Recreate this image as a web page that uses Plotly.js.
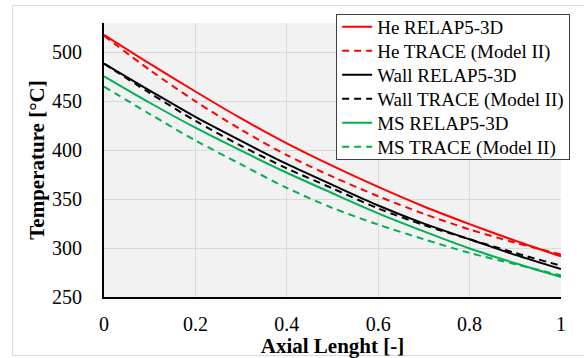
<!DOCTYPE html>
<html>
<head>
<meta charset="utf-8">
<script src="https://cdn.plot.ly/plotly-3.0.1.min.js"></script>
<style>
  html, body { margin: 0; padding: 0; background: #ffffff; }
  #wrap { position: relative; width: 584px; height: 358px; overflow: hidden; }
  #frame { position: absolute; left: 12px; top: 5px; width: 600px; height: 351px; border: 1px solid #d9d9d9; box-sizing: border-box; }
  #chart { position: absolute; left: 0; top: 0; width: 584px; height: 358px; }
</style>
</head>
<body>
<div id="wrap">
  <div id="frame"></div>
  <div id="chart"></div>
</div>
<script>
// Axial position [-]
const axialPos = [0, 0.1, 0.2, 0.3, 0.4, 0.5, 0.6, 0.7, 0.8, 0.9, 1.0];

// Temperatures [°C]
const heRelap  = [518, 488.5, 460, 432.5, 407, 384, 362.5, 342.5, 324.5, 307.5, 291.5];
const heTrace  = [517, 482, 450, 421, 395, 373, 353, 335, 319, 305.5, 293.5];
const wallRelap = [488.5, 461, 434, 409.5, 386, 364.5, 343.5, 325, 309, 293, 278.5];
const wallTrace = [488.5, 458.5, 430, 404.5, 381.5, 361, 340.5, 323.5, 309, 295, 282];
const msRelap  = [475.5, 448.5, 423, 399.5, 377, 356, 335.5, 317, 299.5, 284.5, 270.5];
const msTrace  = [465, 437, 410, 385.5, 361.5, 341, 324, 309, 295, 283.5, 272];

const seriesNames = [
  "He RELAP5-3D", "He TRACE (Model II)",
  "Wall RELAP5-3D", "Wall TRACE (Model II)",
  "MS RELAP5-3D", "MS TRACE (Model II)"
];
const seriesData = [heRelap, heTrace, wallRelap, wallTrace, msRelap, msTrace];
const seriesColors = ["#ff0000", "#ff0000", "#000000", "#000000", "#00b050", "#00b050"];
const seriesDash = ["solid", "7px,5px", "solid", "7px,5px", "solid", "7px,5px"];

const xTicks = [0, 0.2, 0.4, 0.6, 0.8, 1];
const xTickText = ["0", "0.2", "0.4", "0.6", "0.8", "1"];
const yTicks = [250, 300, 350, 400, 450, 500];

const traces = seriesData.map((d, i) => ({
  x: axialPos,
  y: d,
  name: seriesNames[i],
  type: "scatter",
  mode: "lines",
  line: { color: seriesColors[i], width: 2, dash: seriesDash[i], shape: "spline", smoothing: 0.8 }
}));

const font = "'Liberation Serif', 'Times New Roman', serif";

const layout = {
  width: 584,
  height: 358,
  margin: { l: 104, r: 23, t: 23, b: 61 },
  paper_bgcolor: "rgba(0,0,0,0)",
  plot_bgcolor: "#f2f2f2",
  font: { family: font, color: "#000000", size: 20 },
  showlegend: true,
  legend: {
    x: 0.508, y: 1.032, xanchor: "left", yanchor: "top",
    bgcolor: "#ffffff", bordercolor: "#404040", borderwidth: 1,
    font: { family: font, size: 19, color: "#000000" },
    itemwidth: 30
  },
  xaxis: {
    range: [0, 1],
    tickvals: xTicks,
    ticktext: xTickText,
    showgrid: true, gridcolor: "#d9d9d9", gridwidth: 1,
    zeroline: false,
    showline: true, linecolor: "#000000", linewidth: 2,
    ticks: "", ticklabelstandoff: 8,
    tickfont: { family: font, size: 20, color: "#000000" },
    title: { text: "<b>Axial Lenght [-]</b>", font: { family: font, size: 21, color: "#000000" }, standoff: 5 },
    automargin: false,
    fixedrange: true
  },
  yaxis: {
    range: [250, 530],
    tickvals: yTicks,
    showgrid: true, gridcolor: "#d9d9d9", gridwidth: 1,
    zeroline: false,
    showline: true, linecolor: "#000000", linewidth: 2,
    ticks: "", ticklabelstandoff: 16,
    tickfont: { family: font, size: 20, color: "#000000" },
    title: { text: "<b>Temperature [°C]</b>", font: { family: font, size: 21, color: "#000000" }, standoff: 2 },
    automargin: false,
    fixedrange: true
  }
};

// Compact the legend rows to the reference's row pitch
function compactLegend(gd) {
  const leg = gd.querySelector("g.legend");
  if (!leg) return;
  const items = leg.querySelectorAll("g.traces");
  const pitch = 24, firstCenter = 12.5;
  items.forEach((t, i) => {
    const tr = t.getAttribute("transform") || "";
    const m = tr.match(/translate\(\s*([-\d.]+)[ ,]+([-\d.]+)\s*\)/);
    const x = m ? parseFloat(m[1]) : 0;
    t.setAttribute("transform", "translate(" + x + "," + (firstCenter + i * pitch) + ")");
  });
  const h = firstCenter * 2 + (items.length - 1) * pitch;
  const bg = leg.querySelector("rect.bg");
  if (bg) bg.setAttribute("height", h);
  const defs = gd.querySelectorAll("clipPath[id*='legend'] rect");
  defs.forEach(r => r.setAttribute("height", h));
}

Plotly.newPlot("chart", traces, layout, { staticPlot: true, displayModeBar: false })
  .then(gd => compactLegend(gd));
</script>
</body>
</html>
